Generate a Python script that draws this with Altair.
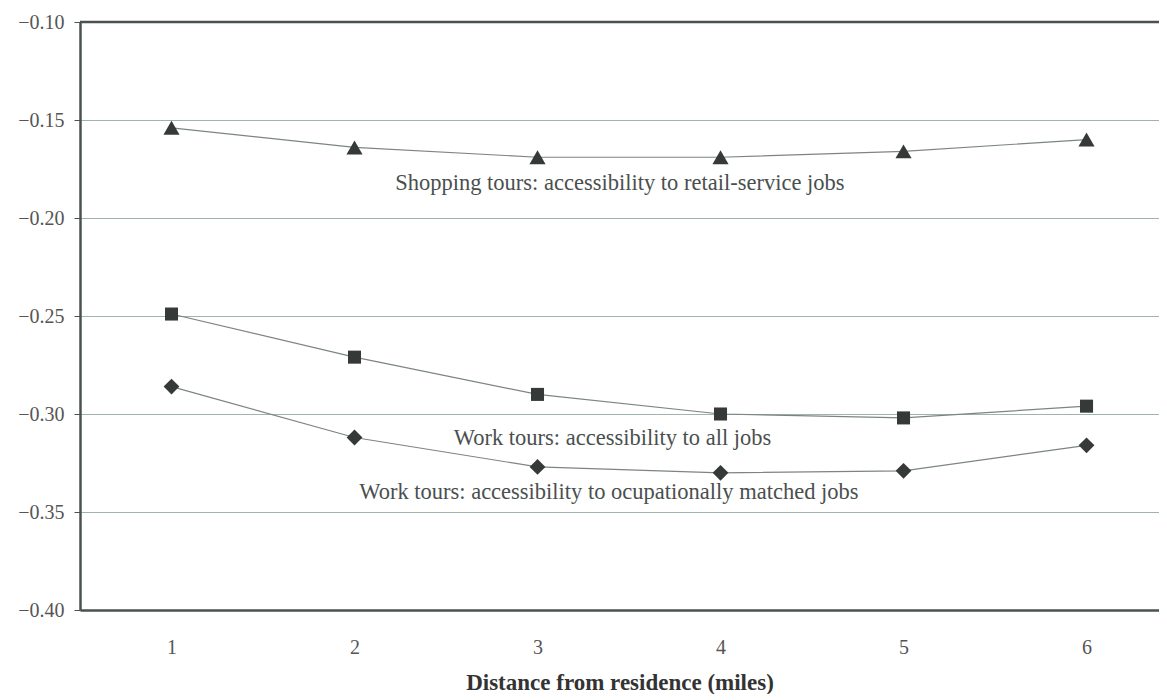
import altair as alt
import pandas as pd

distance = [1, 2, 3, 4, 5, 6]
shopping = [-0.154, -0.164, -0.169, -0.169, -0.166, -0.160]
work_all = [-0.249, -0.271, -0.290, -0.300, -0.302, -0.296]
work_occ = [-0.286, -0.312, -0.327, -0.330, -0.329, -0.316]

series_names = ["Shopping", "WorkAll", "WorkOcc"]
series_shapes = ["triangle-up", "square", "diamond"]
series_sizes = [260, 170, 250]

label_texts = [
    "Shopping tours: accessibility to retail-service jobs",
    "Work tours: accessibility to all jobs",
    "Work tours: accessibility to ocupationally matched jobs",
]
label_x = [3.45, 3.41, 3.39]
label_y = [-0.182, -0.312, -0.340]

y_ticks = [-0.40, -0.35, -0.30, -0.25, -0.20, -0.15, -0.10]

rows = []
for name, vals in zip(series_names, [shopping, work_all, work_occ]):
    for d, v in zip(distance, vals):
        rows.append({"series": name, "distance": d, "value": v})
df = pd.DataFrame(rows)
labels_df = pd.DataFrame({"text": label_texts, "x": label_x, "y": label_y})
top_df = pd.DataFrame({"y": [-0.10]})

FONT = "Liberation Serif"

xscale = alt.Scale(domain=[0.5, 6.396], nice=False, zero=False)
yscale = alt.Scale(domain=[-0.40, -0.10], nice=False, zero=False)

xaxis = alt.Axis(
    values=distance, format="d", title="Distance from residence (miles)",
    grid=False, ticks=False, labelPadding=27,
    titleFontWeight="bold", titleColor="#333333", titlePadding=14,
)
yaxis = alt.Axis(
    values=y_ticks, format=".2f", title=None, grid=True,
    gridColor="#9fb3b0", gridWidth=1, tickSize=6, tickColor="#4a524f",
    labelPadding=10,
)

base = alt.Chart(df)

lines = base.mark_line(color="#7c8584", strokeWidth=1.2).encode(
    x=alt.X("distance:Q", scale=xscale, axis=xaxis),
    y=alt.Y("value:Q", scale=yscale, axis=yaxis),
    detail="series:N",
)

point_layers = []
for name, shp, sz in zip(series_names, series_shapes, series_sizes):
    point_layers.append(
        base.transform_filter(alt.datum.series == name)
        .mark_point(filled=True, opacity=1, color="#353a39", shape=shp, size=sz)
        .encode(
            x=alt.X("distance:Q", scale=xscale, axis=xaxis),
            y=alt.Y("value:Q", scale=yscale, axis=yaxis),
        )
    )

top_rule = alt.Chart(top_df).mark_rule(color="#4a524f", strokeWidth=2.5).encode(
    y=alt.Y("y:Q", scale=yscale, axis=yaxis),
)

texts = alt.Chart(labels_df).mark_text(
    font=FONT, fontSize=22.5, color="#4a4f4e", align="center", baseline="middle"
).encode(
    x=alt.X("x:Q", scale=xscale, axis=xaxis),
    y=alt.Y("y:Q", scale=yscale, axis=yaxis),
    text="text:N",
)

chart = alt.layer(lines, top_rule, *point_layers, texts).properties(
    width=1079, height=588,
    autosize=alt.AutoSizeParams(type="none"),
    padding={"left": 72, "top": 14, "right": 0, "bottom": 84},
).configure_view(stroke=None).configure(background="white").configure_axis(
    labelFont=FONT, labelFontSize=20, labelColor="#555555",
    titleFont=FONT, titleFontSize=23,
    domainColor="#4a524f", domainWidth=2.5,
)

chart.save("out.html", embed_options={"renderer": "svg", "actions": False})
